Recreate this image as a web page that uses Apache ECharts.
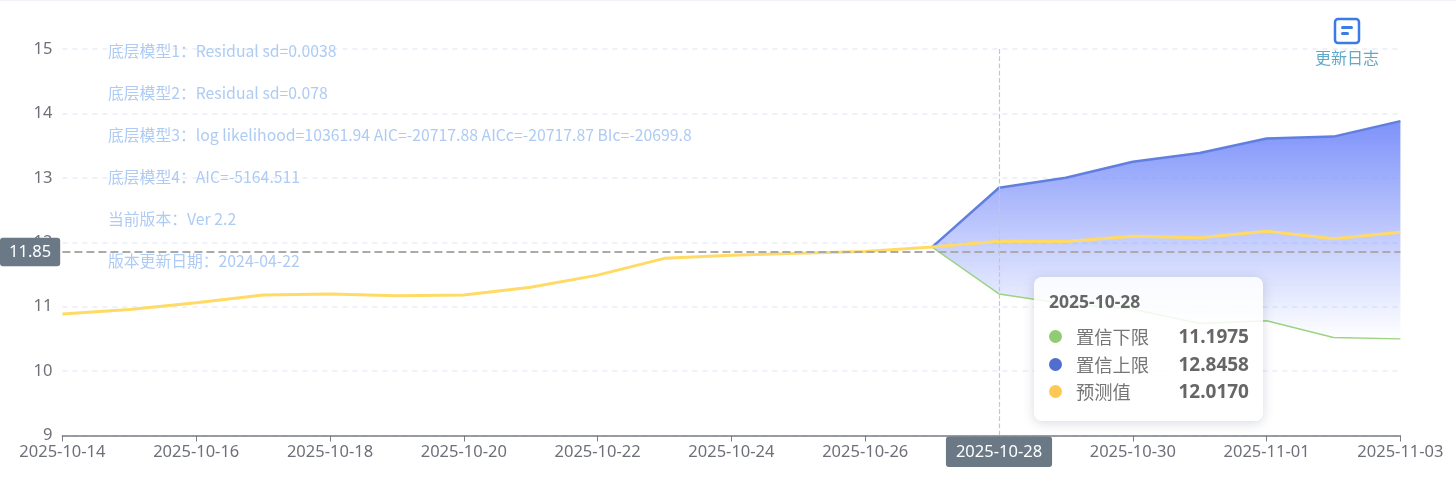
<!DOCTYPE html>
<html>
<head>
<meta charset="utf-8">
<style>html,body{margin:0;padding:0;background:#fff}#c{width:1456px;height:489px}</style>
<script src="https://cdn.jsdelivr.net/npm/echarts@6/dist/echarts.min.js"></script>
</head>
<body>
<div id="c"></div>
<script>
const categories = ['2025-10-14','2025-10-15','2025-10-16','2025-10-17','2025-10-18','2025-10-19','2025-10-20','2025-10-21','2025-10-22','2025-10-23','2025-10-24','2025-10-25','2025-10-26','2025-10-27','2025-10-28','2025-10-29','2025-10-30','2025-10-31','2025-11-01','2025-11-02','2025-11-03'];
const forecast = [10.885,10.955,11.06,11.18,11.195,11.17,11.18,11.30,11.49,11.75,11.80,11.83,11.855,11.925,12.0170,12.01,12.095,12.07,12.17,12.055,12.155];
const lowerBound = [null,null,null,null,null,null,null,null,null,null,null,null,null,11.925,11.1975,11.04,10.96,10.74,10.78,10.52,10.50];
const upperBound = [null,null,null,null,null,null,null,null,null,null,null,null,null,11.925,12.8458,13.0,13.25,13.385,13.61,13.64,13.88];
const yTicks = {min:9,max:15,interval:1};
const infoLines = ['底层模型1：Residual sd=0.0038','底层模型2：Residual sd=0.078','底层模型3：log likelihood=10361.94 AIC=-20717.88 AICc=-20717.87 BIc=-20699.8','底层模型4：AIC=-5164.511','当前版本：Ver 2.2','版本更新日期：2024-04-22'];
const hoverDate = '2025-10-28';
const hoverValue = 11.85;

const FONT = '"Noto Sans CJK SC","Noto Sans",sans-serif';
const LATIN = '"Noto Sans","Noto Sans CJK SC",sans-serif';
const bandWidth = upperBound.map((u,i)=> u==null ? null : +(u-lowerBound[i]).toFixed(4));
const chart = echarts.init(document.getElementById('c'));
function row(color,name,val){
  return '<div style="display:flex;align-items:center;height:27.5px">'+
    '<span style="width:13px;height:13px;border-radius:50%;background:'+color+';margin-right:14px"></span>'+
    '<span style="flex:1;color:#757575;font-size:18.3px">'+name+'</span>'+
    '<span style="font-weight:700;color:#666;font-size:19px">'+val+'</span></div>';
}
chart.setOption({
  animation:false,
  textStyle:{fontFamily:LATIN},
  title:{left:103,top:25,text:infoLines.join('\n'),textStyle:{fontSize:15.8,fontWeight:'normal',color:'#aecbf4',lineHeight:42,fontFamily:FONT}},
  grid:{left:62.4,right:55.6,top:49,bottom:53.5,containLabel:false},
  xAxis:{type:'category',boundaryGap:false,data:categories,
    axisLine:{lineStyle:{color:'#7a7d85',width:1.5}},
    axisTick:{length:6,interval:1,lineStyle:{color:'#7a7d85'}},
    axisLabel:{interval:1,color:'#6e7079',fontSize:16.5,margin:9,showMaxLabel:true,hideOverlap:false,fontFamily:LATIN},
    splitLine:{show:false},
    axisPointer:{type:'line',lineStyle:{color:'#c4c6cc',type:'dashed',width:1.2},
      label:{show:true,backgroundColor:'#6a7985',color:'#fff',fontSize:16.5,padding:[8,10,6,10],borderRadius:3,margin:1,fontFamily:LATIN}}},
  yAxis:{type:'value',min:yTicks.min,max:yTicks.max,interval:yTicks.interval,
    axisLine:{show:false},axisTick:{show:false},
    axisLabel:{color:'#6e7079',fontSize:16.5,margin:10,padding:[0,0,4,0],fontFamily:LATIN},
    splitLine:{lineStyle:{color:'#e9edf7',type:[5,5],width:1.5}},
    axisPointer:{type:'line',lineStyle:{color:'#aaaaaa',type:'dashed',width:2},
      label:{show:true,precision:2,backgroundColor:'#6a7985',color:'#fff',fontSize:16.5,padding:[6,9,6,9],borderRadius:3,margin:4,fontFamily:LATIN}}},
  tooltip:{trigger:'axis',alwaysShowContent:true,transitionDuration:0,
    axisPointer:{type:'cross',animation:false},
    position:[1034,277],
    padding:[12,14,15,15],
    extraCssText:'width:200px;height:117px;box-sizing:content-box;border-radius:8px;border:none;background:rgba(255,255,255,.85);box-shadow:0 2px 12px rgba(60,70,100,.2);font-family:'+LATIN.replace(/"/g,"'")+';',
    formatter:(ps)=>{
      const i=ps[0].dataIndex;
      return '<div style="font-weight:700;color:#666;font-size:17.5px;line-height:24px;margin-bottom:10px">'+categories[i]+'</div>'+
        row('#91cc75','置信下限',lowerBound[i].toFixed(4))+
        row('#4f6ed0','置信上限',upperBound[i].toFixed(4))+
        row('#fdc854','预测值',forecast[i].toFixed(4));
    }},
  series:[
    {name:'置信下限',type:'line',stack:'band',symbol:'none',emphasis:{disabled:true},data:lowerBound,lineStyle:{color:'#9bd483',width:1.5}},
    {name:'置信上限',type:'line',stack:'band',symbol:'none',emphasis:{disabled:true},data:bandWidth,lineStyle:{color:'#617fdf',width:2.5},
      areaStyle:{opacity:1,color:new echarts.graphic.LinearGradient(0,0,0,1,[{offset:0,color:'rgba(126,146,250,1)'},{offset:1,color:'rgba(126,146,250,0)'}])}},
    {name:'预测值',type:'line',symbol:'none',emphasis:{disabled:true},data:forecast,lineStyle:{color:'#ffdb66',width:3}}
  ],
  graphic:[
    {type:'rect',left:0,top:0,shape:{width:1456,height:1},style:{fill:'#f1f3f9'},silent:true},
    {type:'rect',shape:{x:1335,y:19,width:24,height:24,r:3},style:{fill:'#fff',stroke:'#3b7be8',lineWidth:2.5},silent:true},
    {type:'rect',shape:{x:1341,y:26,width:12,height:3,r:1.5},style:{fill:'#3b7be8'},silent:true},
    {type:'rect',shape:{x:1341,y:32,width:8,height:3,r:1.5},style:{fill:'#3b7be8'},silent:true},
    {type:'text',x:1347,y:58,style:{text:'更新日志',fill:'#62a9c9',fontSize:16,fontFamily:FONT,textAlign:'center',textVerticalAlign:'middle'},silent:true}
  ]
});
const p = chart.convertToPixel({gridIndex:0},[hoverDate,hoverValue]);
chart.dispatchAction({type:'showTip',x:p[0],y:p[1]});
</script>
</body>
</html>
